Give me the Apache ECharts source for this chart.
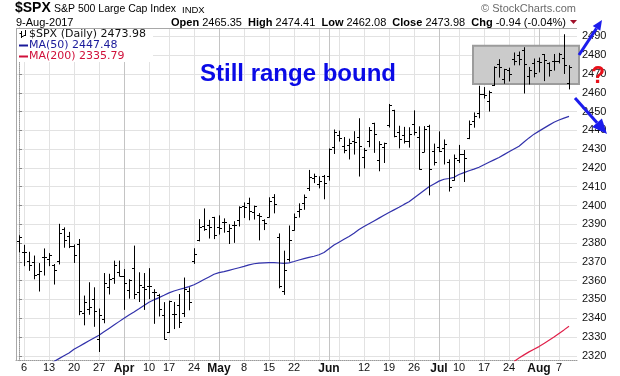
<!DOCTYPE html>
<html><head><meta charset="utf-8">
<script src="https://cdn.jsdelivr.net/npm/echarts@6/dist/echarts.min.js"></script>
<style>html,body{margin:0;padding:0;background:#fff}#c{width:620px;height:376px}</style>
</head><body><div id="c"></div>
<script>
// ---- DATA ----
const dates = ['03-03',
 '03-06','03-07','03-08','03-09','03-10','03-13','03-14','03-15','03-16','03-17',
 '03-20','03-21','03-22','03-23','03-24','03-27','03-28','03-29','03-30','03-31',
 '04-03','04-04','04-05','04-06','04-07','04-10','04-11','04-12','04-13',
 '04-17','04-18','04-19','04-20','04-21','04-24','04-25','04-26','04-27','04-28',
 '05-01','05-02','05-03','05-04','05-05','05-08','05-09','05-10','05-11','05-12',
 '05-15','05-16','05-17','05-18','05-19','05-22','05-23','05-24','05-25','05-26',
 '05-30','05-31','06-01','06-02','06-05','06-06','06-07','06-08','06-09',
 '06-12','06-13','06-14','06-15','06-16','06-19','06-20','06-21','06-22','06-23',
 '06-26','06-27','06-28','06-29','06-30','07-03','07-05','07-06','07-07',
 '07-10','07-11','07-12','07-13','07-14','07-17','07-18','07-19','07-20','07-21',
 '07-24','07-25','07-26','07-27','07-28','07-31','08-01','08-02','08-03','08-04',
 '08-07','08-08','08-09'];
const opens = [2380.9,
 2375.2,2370.7,2369.8,2363.5,2372.5,2371.6,2368.6,2370.3,2387.7,2383.7,
 2378.2,2379.3,2343.0,2345.1,2350.4,2329.1,2339.8,2356.5,2361.3,2364.8,
 2362.3,2354.8,2366.6,2353.8,2356.6,2357.2,2353.9,2352.2,2341.9,
 2332.6,2342.5,2346.8,2342.7,2354.7,2370.3,2381.5,2389.0,2389.7,2393.7,
 2388.5,2391.1,2386.5,2389.8,2392.4,2399.9,2401.6,2396.8,2394.8,2392.4,
 2394.0,2404.6,2383.0,2354.7,2371.4,2387.2,2397.0,2401.4,2409.5,2414.5,
 2411.7,2415.6,2415.6,2431.3,2437.8,2431.9,2432.0,2434.3,2436.4,
 2425.9,2434.2,2443.8,2424.1,2431.2,2442.6,2450.7,2439.3,2437.4,2434.6,
 2443.3,2436.3,2428.7,2442.4,2429.2,2431.4,2430.8,2423.4,2413.5,
 2424.5,2427.4,2435.8,2445.0,2449.2,2459.5,2455.9,2463.9,2475.6,2467.4,
 2472.0,2477.9,2480.0,2482.8,2469.1,2475.9,2477.1,2480.4,2476.0,2476.9,
 2477.1,2478.4,2465.35];
const highs = [2383.9,
 2378.8,2375.1,2373.1,2369.1,2376.9,2374.4,2368.6,2390.0,2388.1,2385.7,
 2379.0,2381.9,2351.8,2358.9,2356.2,2344.9,2363.8,2363.4,2370.4,2370.4,
 2365.9,2360.5,2378.4,2364.2,2363.8,2366.4,2355.2,2352.7,2348.3,
 2349.1,2348.4,2352.6,2361.4,2356.2,2377.0,2392.5,2398.2,2392.1,2393.7,
 2394.5,2392.9,2389.8,2391.4,2399.3,2401.4,2403.9,2399.7,2395.7,2392.4,
 2404.1,2405.8,2384.9,2375.7,2389.1,2395.5,2400.9,2405.6,2418.7,2416.7,
 2415.3,2416.0,2430.1,2440.2,2439.6,2436.2,2435.3,2439.3,2446.2,
 2430.4,2441.5,2443.8,2434.0,2433.2,2453.8,2450.7,2442.2,2441.6,2441.4,
 2450.4,2441.9,2442.0,2442.7,2432.7,2439.2,2434.9,2424.3,2426.9,
 2432.0,2429.3,2445.0,2449.3,2463.5,2462.8,2460.9,2473.8,2477.6,2472.5,
 2473.1,2481.2,2481.7,2484.0,2473.5,2478.0,2478.5,2480.4,2476.0,2480.4,
 2481.0,2490.9,2474.41];
const lows = [2375.4,
 2368.0,2365.5,2361.0,2354.5,2363.0,2368.0,2358.2,2368.9,2377.8,2377.6,
 2369.7,2341.9,2336.5,2342.1,2335.7,2322.3,2337.6,2352.9,2358.6,2362.6,
 2344.7,2350.7,2350.5,2348.9,2344.7,2350.4,2337.3,2341.2,2329.0,
 2332.5,2334.5,2335.1,2340.9,2344.5,2369.2,2381.2,2386.8,2382.7,2382.4,
 2384.8,2385.8,2379.8,2380.4,2389.1,2393.6,2392.4,2392.8,2381.7,2387.2,
 2393.9,2396.1,2356.2,2352.7,2370.4,2386.9,2393.9,2398.0,2408.0,2412.2,
 2409.4,2403.6,2413.5,2427.7,2434.3,2428.1,2424.8,2427.4,2415.7,
 2420.0,2431.3,2428.3,2418.5,2422.9,2441.8,2436.6,2430.7,2433.3,2431.1,
 2437.6,2419.4,2428.7,2405.7,2421.6,2428.7,2422.1,2407.7,2413.5,
 2422.9,2412.8,2435.6,2441.7,2446.7,2457.2,2450.3,2463.9,2468.4,2465.1,
 2466.3,2474.9,2474.9,2459.9,2464.7,2468.5,2471.1,2466.5,2468.9,2472.1,
 2475.9,2470.3,2462.08];
const closes = [2383.1,
 2375.3,2368.4,2363.0,2364.9,2372.6,2373.5,2365.5,2385.3,2381.4,2378.3,
 2373.5,2344.0,2348.5,2346.0,2344.0,2341.6,2358.6,2361.1,2368.1,2362.7,
 2358.8,2360.2,2353.0,2357.5,2355.5,2357.2,2353.8,2344.9,2329.0,
 2349.0,2342.2,2338.2,2355.8,2348.7,2374.2,2388.6,2387.5,2388.8,2384.2,
 2388.3,2391.2,2388.1,2389.5,2399.3,2399.4,2396.9,2399.6,2394.4,2390.9,
 2402.3,2400.7,2357.0,2365.7,2381.7,2394.0,2398.4,2404.4,2415.1,2415.8,
 2412.9,2411.8,2430.1,2439.1,2436.1,2429.3,2433.1,2433.8,2431.8,
 2429.4,2440.4,2437.9,2432.5,2433.2,2453.5,2437.0,2435.6,2434.5,2438.3,
 2439.1,2419.4,2440.7,2419.7,2423.4,2429.0,2432.5,2409.8,2425.2,
 2427.4,2425.5,2443.3,2447.8,2459.3,2459.1,2460.6,2473.8,2473.5,2472.5,
 2469.9,2477.1,2477.8,2475.4,2472.1,2470.3,2476.4,2477.6,2472.2,2476.8,
 2480.9,2474.92,2473.98];
const ma50 = [2306.0,
 2308.0,2309.5,2311.0,2312.5,2314.0,2315.5,2317.0,2318.5,2320.0,2321.5,
 2323.5,2325.0,2326.5,2328.0,2329.5,2331.0,2332.8,2334.6,2336.4,2338.2,
 2340.0,2341.7,2343.3,2345.0,2346.8,2348.5,2349.8,2351.0,2352.2,
 2353.5,2354.5,2355.3,2356.0,2356.8,2357.8,2359.2,2360.6,2362.0,2363.4,
 2364.3,2364.8,2365.5,2366.2,2366.9,2367.6,2368.4,2369.0,2369.3,2369.5,
 2369.6,2369.6,2369.4,2369.2,2369.5,2370.2,2371.0,2371.7,2372.4,2373.0,
 2373.8,2375.0,2377.0,2379.0,2380.5,2382.0,2383.5,2385.3,2387.2,
 2388.8,2390.3,2391.8,2393.3,2394.8,2396.3,2397.7,2399.1,2400.6,2402.0,
 2404.0,2406.0,2408.0,2410.0,2411.5,2413.0,2414.0,2414.4,2415.0,
 2416.5,2417.5,2418.5,2419.4,2420.4,2421.7,2423.0,2424.3,2425.6,2427.1,
 2428.6,2430.1,2431.6,2433.8,2436.0,2438.0,2439.6,2441.2,2442.8,2444.3,
 2445.5,2446.5,2447.48];
const ma200Dates = ['07-25','07-26','07-27','07-28','07-31','08-01','08-02','08-03','08-04','08-07','08-08','08-09'];
const ma200 = [2317.0,2318.8,2320.5,2322.1,2323.5,2324.9,2326.6,2328.3,2330.0,2331.9,2333.8,2335.79];
const yTicks = [2320,2330,2340,2350,2360,2370,2380,2390,2400,2410,2420,2430,2440,2450,2460,2470,2480,2490];
const xLabelDates = ['03-06','03-13','03-20','03-27','04-03','04-10','04-17','04-24','05-01','05-08','05-15','05-22','06-01','06-12','06-19','06-26','07-03','07-10','07-17','07-24','08-01','08-07'];
const xLabelTexts = ['6','13','20','27','Apr','10','17','24','May','8','15','22','Jun','12','19','26','Jul','10','17','24','Aug','7'];
const weekLineDates = ['03-06','03-13','03-20','03-27','04-10','04-17','04-24','05-08','05-15','05-22','05-30','06-05','06-12','06-19','06-26','07-10','07-17','07-24','07-31','08-07'];
const monthLineDates = ['04-03','05-01','06-01','07-03','08-01'];
const rangeBox = {fromDate:'07-12', toDate:'08-09', top:2485.1, bottom:2464.7};

// ---- CHART ----
const idx = d => dates.indexOf(d);
const N = dates.length;
const last = N - 1;
const ohlc = dates.map((d, i) => [i, opens[i], highs[i], lows[i], closes[i]]);
const ma50Data = ma50.map((v, i) => [i, v]);
const ma200Data = ma200Dates.map((d, k) => [idx(d), ma200[k]]);
const labelMap = {};
xLabelDates.forEach((d, k) => { labelMap[idx(d)] = xLabelTexts[k]; });

const G = {left: 16, right: 43, top: 28, bottom: 15.3};
const XMIN = -0.6, XMAX = N + 0.6;
const YMIN = 2317.4, YMAX = 2494.5;
const FONT = "'Liberation Sans', Arial, sans-serif";

const chart = echarts.init(document.getElementById('c'), null, {renderer: 'canvas'});
chart.setOption({
  animation: false,
  backgroundColor: '#ffffff',
  grid: {left: G.left, right: G.right, top: G.top, bottom: G.bottom, show: false},
  xAxis: [{
    type: 'value', min: XMIN, max: XMAX, position: 'bottom',
    axisLine: {show: true, lineStyle: {color: '#9a9a9a', type: 'dotted'}},
    axisTick: {show: false, customValues: weekLineDates.map(idx)},
    splitLine: {show: true, lineStyle: {color: '#e2e2e2', width: 1}},
    axisLabel: {
      customValues: xLabelDates.map(idx), margin: 2, color: '#111', fontSize: 11, fontFamily: FONT,
      formatter: v => { const t = labelMap[Math.round(v)] || ''; return /^[A-Z]/.test(t) ? '{b|' + t + '}' : t; },
      rich: {b: {fontWeight: 'bold', fontSize: 12, fontFamily: FONT, color: '#111'}}
    }
  }, {
    type: 'value', min: XMIN, max: XMAX, position: 'top',
    axisLine: {show: false}, axisLabel: {show: false},
    axisTick: {show: false, customValues: monthLineDates.map(idx)},
    splitLine: {show: true, lineStyle: {color: '#c4c4c4', width: 1}}
  }],
  yAxis: [{
    type: 'value', position: 'right', min: YMIN, max: YMAX, scale: true,
    axisLine: {show: true, lineStyle: {color: '#9a9a9a', type: 'dotted'}},
    axisTick: {show: true, customValues: yTicks, length: 3, lineStyle: {color: '#888'}},
    splitLine: {show: true, lineStyle: {color: '#e2e2e2', width: 1}},
    axisLabel: {customValues: yTicks, margin: 5, color: '#111', fontSize: 11, fontFamily: FONT,
      formatter: v => String(Math.round(v))}
  }],
  series: [{
    type: 'custom', name: '$SPX', xAxisIndex: 0, yAxisIndex: 0, z: 3,
    data: ohlc, encode: {x: 0, y: [1, 2, 3, 4]}, clip: true,
    renderItem: function (params, api) {
      const x = api.value(0);
      const o = api.coord([x, api.value(1)]);
      const h = api.coord([x, api.value(2)]);
      const l = api.coord([x, api.value(3)]);
      const c = api.coord([x, api.value(4)]);
      const px = Math.round(h[0]) + 0.5;
      const oy = Math.round(o[1]) + 0.5, cy = Math.round(c[1]) + 0.5;
      const st = {stroke: '#000', lineWidth: 1};
      return {type: 'group', children: [
        {type: 'line', shape: {x1: px, y1: h[1] - 0.5, x2: px, y2: l[1] + 0.5}, style: st},
        {type: 'line', shape: {x1: px - 2.5, y1: oy, x2: px, y2: oy}, style: st},
        {type: 'line', shape: {x1: px, y1: cy, x2: px + 2.5, y2: cy}, style: st}
      ]};
    }
  }, {
    type: 'line', name: 'MA(50)', data: ma50Data, showSymbol: false, symbol: 'none', z: 2,
    lineStyle: {color: '#3232ab', width: 1.2}, clip: true
  }, {
    type: 'line', name: 'MA(200)', data: ma200Data, showSymbol: false, symbol: 'none', z: 2,
    lineStyle: {color: '#e0204a', width: 1.2}, clip: true
  }]
});

// ---- ANNOTATIONS ----
const W = 620, H = 376;
const gx0 = G.left, gx1 = W - G.right, gy0 = G.top, gy1 = H - G.bottom;
const p1 = chart.convertToPixel({xAxisIndex: 0, yAxisIndex: 0}, [idx(rangeBox.fromDate) + 0.8, rangeBox.top]);
const p2 = chart.convertToPixel({xAxisIndex: 0, yAxisIndex: 0}, [idx(rangeBox.toDate) + 2, rangeBox.bottom]);

function arrow(x1, y1, x2, y2, hl, hw, color, lw) {
  const a = Math.atan2(y2 - y1, x2 - x1);
  const bx = x2 - hl * Math.cos(a), by = y2 - hl * Math.sin(a);
  const px = -Math.sin(a) * hw / 2, py = Math.cos(a) * hw / 2;
  return [
    {type: 'line', z: 100, shape: {x1: x1, y1: y1, x2: bx, y2: by}, style: {stroke: color, lineWidth: lw}},
    {type: 'polygon', z: 100, shape: {points: [[x2, y2], [bx + px, by + py], [bx - px, by - py]]}, style: {fill: color}}
  ];
}
const chg = closes[last] - closes[last - 1];
const pct = chg / closes[last - 1] * 100;
const f2 = v => v.toFixed(2);
const blue = '#1c1ced';
const LF = "11px 'DejaVu Sans', Verdana, sans-serif";

const elements = [
  // frame top & left
  {type: 'line', z: 5, shape: {x1: gx0, y1: gy0 + 0.5, x2: gx1, y2: gy0 + 0.5}, style: {stroke: '#a8a8a8', lineWidth: 1}},
  {type: 'line', z: 5, shape: {x1: gx0 + 0.5, y1: gy0, x2: gx0 + 0.5, y2: gy1}, style: {stroke: '#a8a8a8', lineWidth: 1}},
  // range box
  {type: 'rect', z: 1, shape: {x: p1[0], y: p1[1], width: p2[0] - p1[0], height: p2[1] - p1[1]},
   style: {fill: '#cbcbcb', stroke: '#9c9c9c', lineWidth: 2}},
  // legend box
  {type: 'rect', z: 4, shape: {x: gx0 + 1, y: gy0 + 1, width: 136, height: 33}, style: {fill: '#fff'}},
  {type: 'line', z: 6, shape: {x1: 21.5, y1: 31, x2: 21.5, y2: 38}, style: {stroke: '#000', lineWidth: 1}},
  {type: 'line', z: 6, shape: {x1: 19.5, y1: 33.5, x2: 21.5, y2: 33.5}, style: {stroke: '#000', lineWidth: 1}},
  {type: 'line', z: 6, shape: {x1: 21.5, y1: 36.5, x2: 23.5, y2: 36.5}, style: {stroke: '#000', lineWidth: 1}},
  {type: 'line', z: 6, shape: {x1: 25.5, y1: 30, x2: 25.5, y2: 36}, style: {stroke: '#000', lineWidth: 1}},
  {type: 'line', z: 6, shape: {x1: 23.5, y1: 35.5, x2: 25.5, y2: 35.5}, style: {stroke: '#000', lineWidth: 1}},
  {type: 'text', z: 6, style: {x: 29, y: 34, text: '$SPX (Daily) ' + f2(closes[last]), fill: '#111', font: LF, verticalAlign: 'middle'}},
  {type: 'line', z: 6, shape: {x1: 19, y1: 45.5, x2: 28, y2: 45.5}, style: {stroke: '#1a1a9a', lineWidth: 2}},
  {type: 'text', z: 6, style: {x: 29, y: 45, text: 'MA(50) ' + f2(ma50[last]), fill: '#1a1a9a', font: LF, verticalAlign: 'middle'}},
  {type: 'line', z: 6, shape: {x1: 19, y1: 56.5, x2: 28, y2: 56.5}, style: {stroke: '#d0103a', lineWidth: 2}},
  {type: 'text', z: 6, style: {x: 29, y: 56, text: 'MA(200) ' + f2(ma200[ma200.length - 1]), fill: '#d0103a', font: LF, verticalAlign: 'middle'}},
  // header
  {type: 'text', z: 6, style: {x: 15, y: 8.5, text: '$SPX', fill: '#000', font: "bold 14px " + FONT, verticalAlign: 'middle'}},
  {type: 'text', z: 6, style: {x: 54, y: 9.5, text: 'S&P 500 Large Cap Index', fill: '#000', font: "10.5px " + FONT, verticalAlign: 'middle'}},
  {type: 'text', z: 6, style: {x: 182, y: 10, text: 'INDX', fill: '#000', font: "9.5px " + FONT, verticalAlign: 'middle'}},
  {type: 'text', z: 6, style: {x: 16, y: 22.5, text: '9-Aug-2017', fill: '#000', font: "11px " + FONT, verticalAlign: 'middle'}},
  {type: 'text', z: 6, style: {x: 566, y: 22.5, align: 'right', verticalAlign: 'middle', fill: '#000', font: "11px " + FONT,
    text: '{b|Open} ' + f2(opens[last]) + '  {b|High} ' + f2(highs[last]) + '  {b|Low} ' + f2(lows[last]) +
          '  {b|Close} ' + f2(closes[last]) + '  {b|Chg} ' + f2(chg) + ' (' + f2(pct) + '%)',
    rich: {b: {font: "bold 11px " + FONT, fill: '#000'}}}},
  {type: 'polygon', z: 6, shape: {points: [[570, 20], [577, 20], [573.5, 24]]}, style: {fill: '#a0102a'}},
  {type: 'text', z: 6, style: {x: 576, y: 9, align: 'right', text: '\u00A9 StockCharts.com', fill: '#6a6a6a', font: "11px " + FONT, verticalAlign: 'middle'}},
  // annotation text
  {type: 'text', z: 100, style: {x: 200, y: 74.5, text: 'Still range bound', fill: '#0a0ae6', font: "bold 24px " + FONT, verticalAlign: 'middle'}},
  {type: 'text', z: 100, style: {x: 598, y: 77, align: 'center', text: '?', fill: '#e8101a', font: "bold 23px " + FONT, verticalAlign: 'middle'}}
].concat(arrow(579, 55, 602, 20, 10, 9, blue, 3), arrow(575, 98, 607, 134, 15, 13, blue, 3));

chart.setOption({graphic: {elements: elements}});
</script>
</body></html>
